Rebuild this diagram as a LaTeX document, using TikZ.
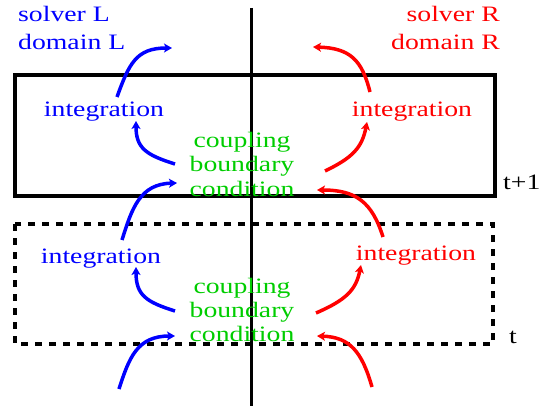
\documentclass[tikz,border=0pt]{standalone}
\usepackage{fontspec}
\setmainfont{Liberation Serif}
\usetikzlibrary{arrows.meta}
\definecolor{solverL}{RGB}{0,0,255}
\definecolor{solverR}{RGB}{255,0,0}
\definecolor{couple}{RGB}{0,205,0}
\newcommand{\widetext}[1]{\scalebox{1.26}[1]{#1}}

\begin{document}
\begin{tikzpicture}[x=1pt,y=1pt,
  flow/.style={-{Stealth[length=8pt,width=9pt,inset=2pt]},line width=3.5pt},
  frame/.style={draw=black,line width=3.5pt},
  txt/.style={inner sep=0pt,font=\fontsize{22}{24}\selectfont},
]
\useasboundingbox (0,0) rectangle (545,-406);
% interface between the two domains
\draw[line width=3pt] (251,-8)--(251,-406);
\draw[frame] (15,-75) rectangle (495,-196);
\draw[frame,dash pattern=on 7pt off 7pt] (15,-224) rectangle (493,-344);
% labels
\node[txt,text=solverL,anchor=base west] (solvL) at (18,-22)
  {\widetext{\fontsize{22}{28}\selectfont\begin{tabular}[t]{@{}l@{}}solver L\\domain L\end{tabular}}};
\node[txt,text=solverR,anchor=base east] (solvR) at (500,-22)
  {\widetext{\fontsize{22}{28}\selectfont\begin{tabular}[t]{@{}r@{}}solver R\\domain R\end{tabular}}};
\node[txt,text=solverL,anchor=base] (intL1) at (104,-117) {\widetext{integration}};
\node[txt,text=solverR,anchor=base] (intR1) at (412,-117) {\widetext{integration}};
\node[txt,text=solverL,anchor=base] (intL0) at (101,-263) {\widetext{integration}};
\node[txt,text=solverR,anchor=base] (intR0) at (416,-260) {\widetext{integration}};
\node[txt,text=couple,anchor=base] (cbc1) at (242,-148)
  {\widetext{\begin{tabular}[t]{@{}c@{}}coupling\\boundary\\condition\end{tabular}}};
\node[txt,text=couple,anchor=base] (cbc0) at (242,-293)
  {\widetext{\begin{tabular}[t]{@{}c@{}}coupling\\boundary\\condition\end{tabular}}};
\node[txt,anchor=base west] (tnext) at (503,-189) {\widetext{t+1}};
\node[txt,anchor=base west] (tnow) at (509,-343) {\widetext{t}};
% arrow ends
\coordinate (outL) at (172,-48);
\coordinate (outR) at (313,-47);
\coordinate (inL1) at (122,-240);
\coordinate (inR1) at (383,-237);
\coordinate (inL0) at (119,-389);
\coordinate (inR0) at (372,-387);
% solver L
\draw[flow,solverL] (117,-97) .. controls (129,-64) and (136,-48) .. (outL);
\draw[flow,solverL] (175,-164) .. controls (146,-155) and (136,-148) .. (136,-121);
\draw[flow,solverL] (inL1) .. controls (132,-208) and (140,-184) .. (177,-183);
\draw[flow,solverL] (175,-311) .. controls (146,-302) and (136,-295) .. (136,-267);
\draw[flow,solverL] (inL0) .. controls (129,-358) and (137,-336) .. (175,-336);
% solver R
\draw[flow,solverR] (370,-92) .. controls (362,-60) and (350,-48) .. (outR);
\draw[flow,solverR] (325,-171) .. controls (352,-158) and (362,-148) .. (367,-122);
\draw[flow,solverR] (inR1) .. controls (372,-202) and (356,-190) .. (317,-190);
\draw[flow,solverR] (316,-313) .. controls (346,-300) and (356,-290) .. (361,-265);
\draw[flow,solverR] (inR0) .. controls (362,-352) and (350,-337) .. (317,-336);
\end{tikzpicture}
\end{document}
